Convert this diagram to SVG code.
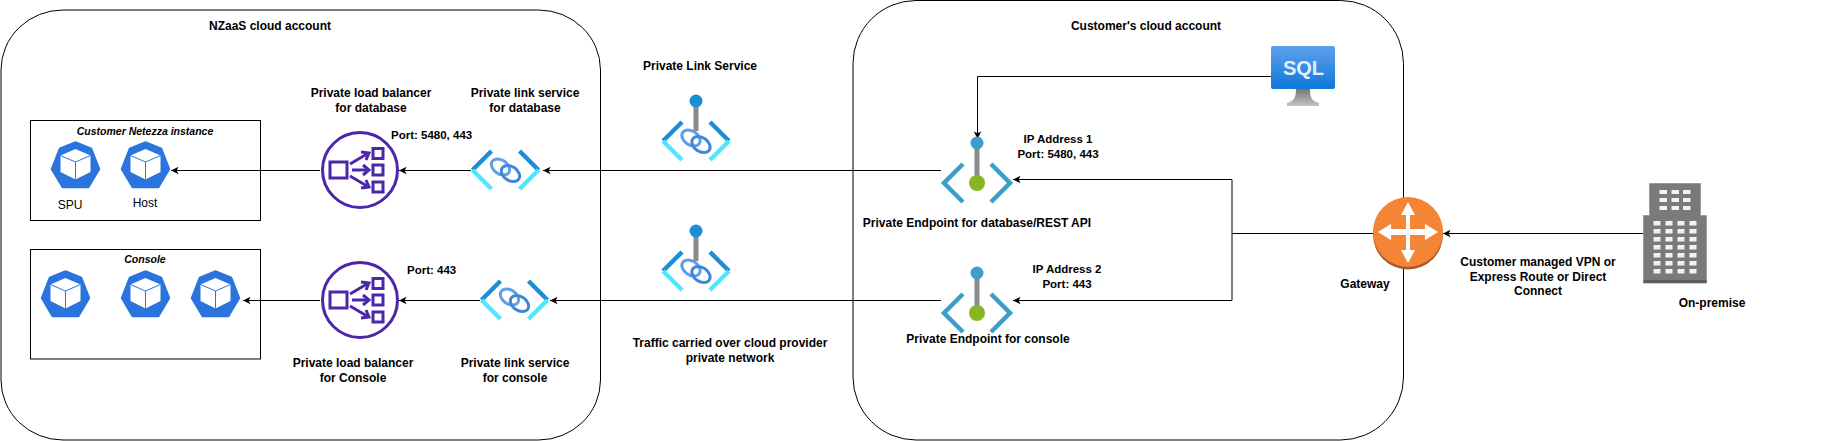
<svg xmlns="http://www.w3.org/2000/svg" width="1823" height="441" viewBox="0 0 1823 441">
<style>
text{font-family:"Liberation Sans",Arial,sans-serif;font-size:12px;font-weight:700;fill:#000;text-anchor:middle}
.reg{font-weight:400}
.it{font-style:italic;font-size:10.5px}
.l{text-anchor:start}
.port{font-size:11.5px}
.box{fill:none;stroke:#000;stroke-width:1}
.con{fill:none;stroke:#000;stroke-width:1;marker-end:url(#ah)}
.plain{fill:none;stroke:#000;stroke-width:1}
.win{fill:#f2f2f2}
</style>
<defs>
<marker id="ah" markerUnits="userSpaceOnUse" markerWidth="9" markerHeight="9" refX="8" refY="4.5" orient="auto"><path d="M0.5,4.5 L8,0.8 L6.2,4.5 L8,8.2 Z" transform="rotate(180 4.25 4.5)" fill="#000"/></marker>
<linearGradient id="sqlg" x1="0" y1="0" x2="0" y2="1"><stop offset="0" stop-color="#5ea0ef"/><stop offset="1" stop-color="#0f78d8"/></linearGradient>
<linearGradient id="stand" x1="0" y1="0" x2="0" y2="1"><stop offset="0" stop-color="#767676"/><stop offset="1" stop-color="#c4c4c4"/></linearGradient>
<g id="hex">
<path d="M0,-23 L16,-16.5 L24,4 L13,22.5 L-13,22.5 L-24,4 L-16,-16.5 Z" fill="#2b74dd" stroke="#2b74dd" stroke-width="1.5" stroke-linejoin="round"/>
<path d="M0,-16 L15,-9.5 L15,7 L0,14.5 L-15,7 L-15,-9.5 Z" fill="#fff"/>
<path d="M-15,-9.5 L0,-3 L15,-9.5 M0,-3 L0,14.5" fill="none" stroke="#2b74dd" stroke-width="1"/>
</g>
<g id="lb">
<circle r="37.5" fill="#fff" stroke="#4d27aa" stroke-width="3"/>
<g fill="none" stroke="#4d27aa" stroke-width="3">
<rect x="-30" y="-8" width="17" height="16"/>
<rect x="13" y="-21.5" width="10" height="10"/>
<rect x="13" y="-5" width="10" height="10"/>
<rect x="13" y="12" width="10" height="10"/>
<path d="M-10,-6 L7,-16 M-8,0 L8,0 M-10,6 L7,16"/>
<path d="M1,-18 L9,-17 L6,-10 M3,-5 L9,0 L3,5 M6,10 L9,17 L1,18"/>
</g>
</g>
<g id="link">
<path d="M-14,-19 L-33,0" fill="none" stroke="#1b8ed6" stroke-width="4.5"/>
<path d="M14,-19 L33,0" fill="none" stroke="#1b8ed6" stroke-width="4.5"/>
<path d="M-33,0 L-14,19" fill="none" stroke="#50e6ff" stroke-width="4.5"/>
<path d="M33,0 L14,19" fill="none" stroke="#50e6ff" stroke-width="4.5"/>
<ellipse cx="-5" cy="-3" rx="10" ry="7" transform="rotate(35 -5 -3)" fill="none" stroke="#5e9fe8" stroke-width="3"/>
<ellipse cx="5" cy="3.500" rx="10" ry="7" transform="rotate(35 5 3.500)" fill="none" stroke="#3f86d8" stroke-width="3"/>
</g>
<g id="ep">
<rect x="-2.5" y="-40" width="5" height="40" fill="#8a8a8a"/>
<circle cy="-40" r="6.5" fill="#3b9ecb"/>
<circle r="8" fill="#86b623"/>
<path d="M-14,-19 L-33,0 L-14,19 M14,-19 L33,0 L14,19" fill="none" stroke="#3b9ecb" stroke-width="4.5"/>
</g>
</defs>
<g id="nzaas-account"><rect class="box" x="1" y="10" width="599.5" height="430" rx="62" ry="60"/><text x="270" y="30">NZaaS cloud account</text></g>
<g id="customer-account"><rect class="box" x="853" y="0.5" width="550.5" height="439.5" rx="63" ry="63"/><text x="1146" y="30">Customer's cloud account</text></g>
<g id="netezza-box"><rect class="box" x="30.5" y="120.5" width="230" height="100"/><text class="it" x="145" y="135">Customer Netezza instance</text></g>
<g id="console-box"><rect class="box" x="30.5" y="249.5" width="230" height="109.5"/><text class="it" x="145" y="263">Console</text></g>
<g id="connectors">
<path class="con" d="M1271,76.500H977.500V139"/>
<path class="con" d="M320,170.500H171"/>
<path class="con" d="M471,170.500H399"/>
<path class="con" d="M941,170.500H543"/>
<path class="con" d="M320,300.500H243"/>
<path class="con" d="M480,300.500H399"/>
<path class="con" d="M941,300.500H550"/>
<path class="con" d="M1232,233.500V179.500H1013"/>
<path class="con" d="M1232,233.500V300.500H1013"/>
<path class="plain" d="M1373,233.500H1232"/>
<path class="con" d="M1643,233.500H1443"/>
</g>
<g id="spu"><use href="#hex" x="75.500" y="165"/><text class="reg" x="70" y="209">SPU</text></g>
<g id="host"><use href="#hex" x="145.500" y="165"/><text class="reg" x="145" y="207">Host</text></g>
<g id="console-1"><use href="#hex" x="65.500" y="294"/></g>
<g id="console-2"><use href="#hex" x="145.500" y="294"/></g>
<g id="console-3"><use href="#hex" x="215.500" y="294"/></g>
<g id="lb-db"><use href="#lb" x="360" y="170"/><text x="371" y="97">Private load balancer</text><text x="371" y="112">for database</text><text class="l port" x="391" y="139">Port: 5480, 443</text></g>
<g id="lb-console"><use href="#lb" x="360" y="300"/><text x="353" y="367">Private load balancer</text><text x="353" y="382">for Console</text><text class="l port" x="407" y="274">Port: 443</text></g>
<g id="link-db"><use href="#link" x="505.500" y="170"/><text x="525" y="97">Private link service</text><text x="525" y="112">for database</text></g>
<g id="link-console"><use href="#link" x="514.500" y="300"/><text x="515" y="367">Private link service</text><text x="515" y="382">for console</text></g>
<g id="pls-1">
<rect x="693.500" y="101" width="5" height="30" fill="#8a8a8a"/><circle cx="696" cy="101" r="6.500" fill="#1b8ed6"/><use href="#link" x="696" y="141"/><text x="700" y="70">Private Link Service</text></g>
<g id="pls-2">
<rect x="693.500" y="231" width="5" height="30" fill="#8a8a8a"/><circle cx="696" cy="231" r="6.500" fill="#1b8ed6"/><use href="#link" x="696" y="271"/></g>
<text x="730" y="347">Traffic carried over cloud provider</text>
<text x="730" y="362">private network</text>
<g id="ep-db"><use href="#ep" x="977" y="183"/><text x="977" y="227">Private Endpoint for database/REST API</text><text class="port" x="1058" y="143">IP Address 1</text><text class="port" x="1058" y="158">Port: 5480, 443</text></g>
<g id="ep-console"><use href="#ep" x="977" y="313"/><text x="988" y="343">Private Endpoint for console</text><text class="port" x="1067" y="273">IP Address 2</text><text class="port" x="1067" y="288">Port: 443</text></g>
<g id="sql">
<path d="M1296,89 L1310,89 C1310,98 1312,101 1319,103 L1319,106 L1287,106 L1287,103 C1294,101 1296,98 1296,89 Z" fill="url(#stand)"/>
<rect x="1271" y="46" width="64" height="43" rx="2" fill="url(#sqlg)"/>
<text x="1303.500" y="75" style="font-size:20px;fill:#e4effb;font-weight:700">SQL</text>
</g>
<g id="gateway">
<ellipse cx="1408" cy="234.500" rx="35" ry="35" fill="#a9572a"/>
<ellipse cx="1408" cy="232" rx="35" ry="35" fill="#f58536"/>
<path d="M1408,202 L1415,215 L1410,215 L1410,229 L1425,229 L1425,224 L1438,232 L1425,240 L1425,235 L1410,235 L1410,250 L1415,250 L1408,263 L1401,250 L1406,250 L1406,235 L1391,235 L1391,240 L1378,232 L1391,224 L1391,229 L1406,229 L1406,215 L1401,215 Z" fill="#fff"/>
<text x="1365" y="288">Gateway</text>
</g>
<g id="vpn-label"><text x="1538" y="266">Customer managed VPN or</text><text x="1538" y="281">Express Route or Direct</text><text x="1538" y="295">Connect</text></g>
<g id="on-premise">
<path d="M1649.500,183.500 H1700.500 V215.500 H1706.500 V283 H1643.500 V215.500 H1649.500 Z" fill="#7a7a7a" stroke="#9c9c9c" stroke-width="1"/>
<rect x="1643.500" y="280" width="63" height="3" fill="#5c5c5c"/>
<g class="win">
<rect x="1659.500" y="190" width="7.500" height="4"/><rect x="1671.500" y="190" width="7.500" height="4"/><rect x="1683" y="190" width="7.500" height="4"/>
<rect x="1659.500" y="198" width="7.500" height="4"/><rect x="1671.500" y="198" width="7.500" height="4"/><rect x="1683" y="198" width="7.500" height="4"/>
<rect x="1659.500" y="206" width="7.500" height="4"/><rect x="1671.500" y="206" width="7.500" height="4"/><rect x="1683" y="206" width="7.500" height="4"/>
<rect x="1653.500" y="221" width="7" height="4.500"/><rect x="1665.500" y="221" width="7" height="4.500"/><rect x="1677.500" y="221" width="7" height="4.500"/><rect x="1689.500" y="221" width="7" height="4.500"/>
<rect x="1653.500" y="229" width="7" height="4.500"/><rect x="1665.500" y="229" width="7" height="4.500"/><rect x="1677.500" y="229" width="7" height="4.500"/><rect x="1689.500" y="229" width="7" height="4.500"/>
<rect x="1653.500" y="237" width="7" height="4.500"/><rect x="1665.500" y="237" width="7" height="4.500"/><rect x="1677.500" y="237" width="7" height="4.500"/><rect x="1689.500" y="237" width="7" height="4.500"/>
<rect x="1653.500" y="245" width="7" height="4.500"/><rect x="1665.500" y="245" width="7" height="4.500"/><rect x="1677.500" y="245" width="7" height="4.500"/><rect x="1689.500" y="245" width="7" height="4.500"/>
<rect x="1653.500" y="253" width="7" height="4.500"/><rect x="1665.500" y="253" width="7" height="4.500"/><rect x="1677.500" y="253" width="7" height="4.500"/><rect x="1689.500" y="253" width="7" height="4.500"/>
<rect x="1653.500" y="261" width="7" height="4.500"/><rect x="1665.500" y="261" width="7" height="4.500"/><rect x="1677.500" y="261" width="7" height="4.500"/><rect x="1689.500" y="261" width="7" height="4.500"/>
<rect x="1653.500" y="269" width="7" height="4.500"/><rect x="1665.500" y="269" width="7" height="4.500"/><rect x="1677.500" y="269" width="7" height="4.500"/><rect x="1689.500" y="269" width="7" height="4.500"/>
</g>
<text x="1712" y="307">On-premise</text>
</g>
</svg>
